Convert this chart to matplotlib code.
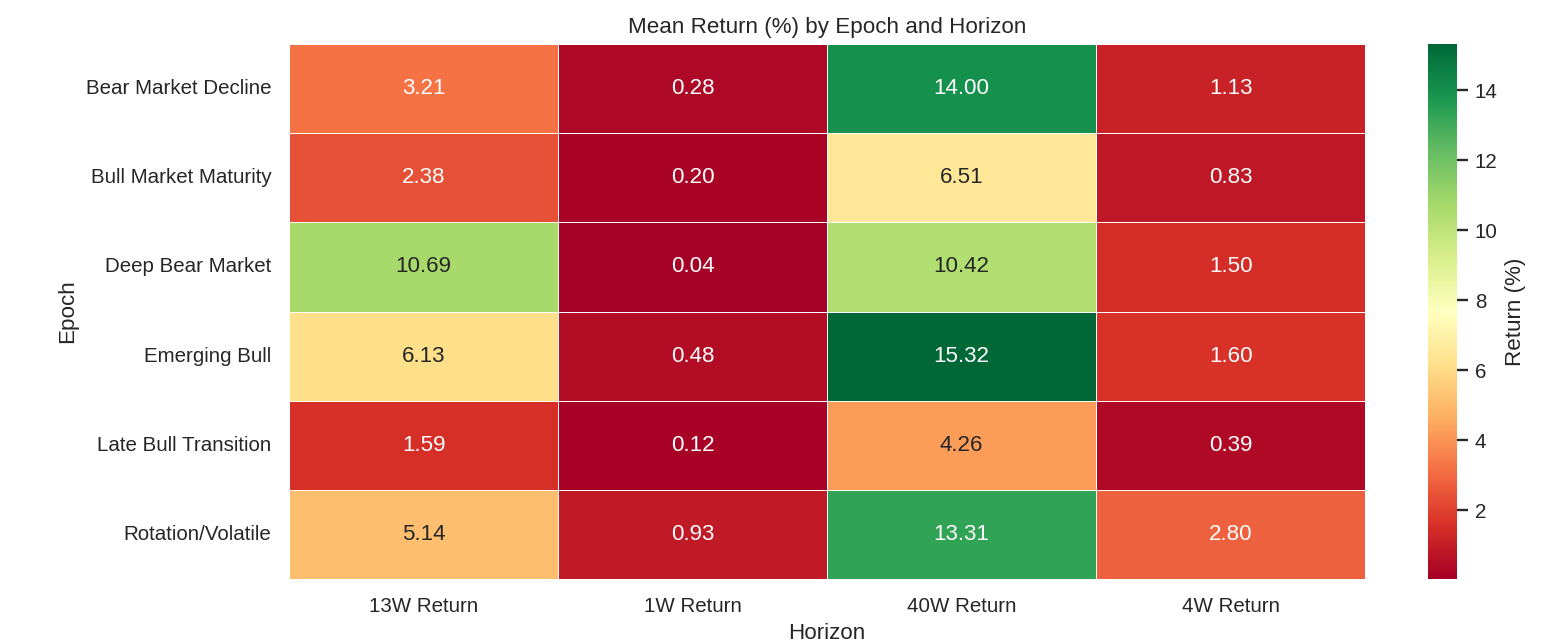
import numpy as np
import pandas as pd
import matplotlib
matplotlib.use("Agg")
import matplotlib.pyplot as plt
import seaborn as sns

epochs = ["Bear Market Decline", "Bull Market Maturity", "Deep Bear Market",
          "Emerging Bull", "Late Bull Transition", "Rotation/Volatile"]
horizons = ["13W Return", "1W Return", "40W Return", "4W Return"]
ret_13w = [3.21, 2.38, 10.69, 6.13, 1.59, 5.14]
ret_1w = [0.28, 0.20, 0.04, 0.48, 0.12, 0.93]
ret_40w = [14.00, 6.51, 10.42, 15.32, 4.26, 13.31]
ret_4w = [1.13, 0.83, 1.50, 1.60, 0.39, 2.80]

df = pd.DataFrame({"13W Return": ret_13w, "1W Return": ret_1w,
                   "40W Return": ret_40w, "4W Return": ret_4w}, index=epochs)
df.index.name = "Epoch"
df.columns.name = "Horizon"

sns.set_theme(style="whitegrid")
plt.rcParams["font.family"] = ["Liberation Sans", "DejaVu Sans"]

dpi = 134.5
fig = plt.figure(figsize=(1543 / dpi, 643 / dpi), dpi=dpi)
ax = fig.add_axes([0.1873, 0.0995, 0.6974, 0.8321])
cax = fig.add_axes([0.9255, 0.0995, 0.0188, 0.8321])

sns.heatmap(df, ax=ax, cbar_ax=cax, cmap="RdYlGn", annot=True, fmt=".2f",
            linewidths=0.5, linecolor="white",
            cbar_kws={"label": "Return (%)"})
ax.set_title("Mean Return (%) by Epoch and Horizon")
ax.set_xlabel("Horizon")
ax.set_ylabel("Epoch")
ax.tick_params(axis="y", rotation=0)
ax.tick_params(axis="x", rotation=0)

fig.savefig("out.png", dpi=dpi)
